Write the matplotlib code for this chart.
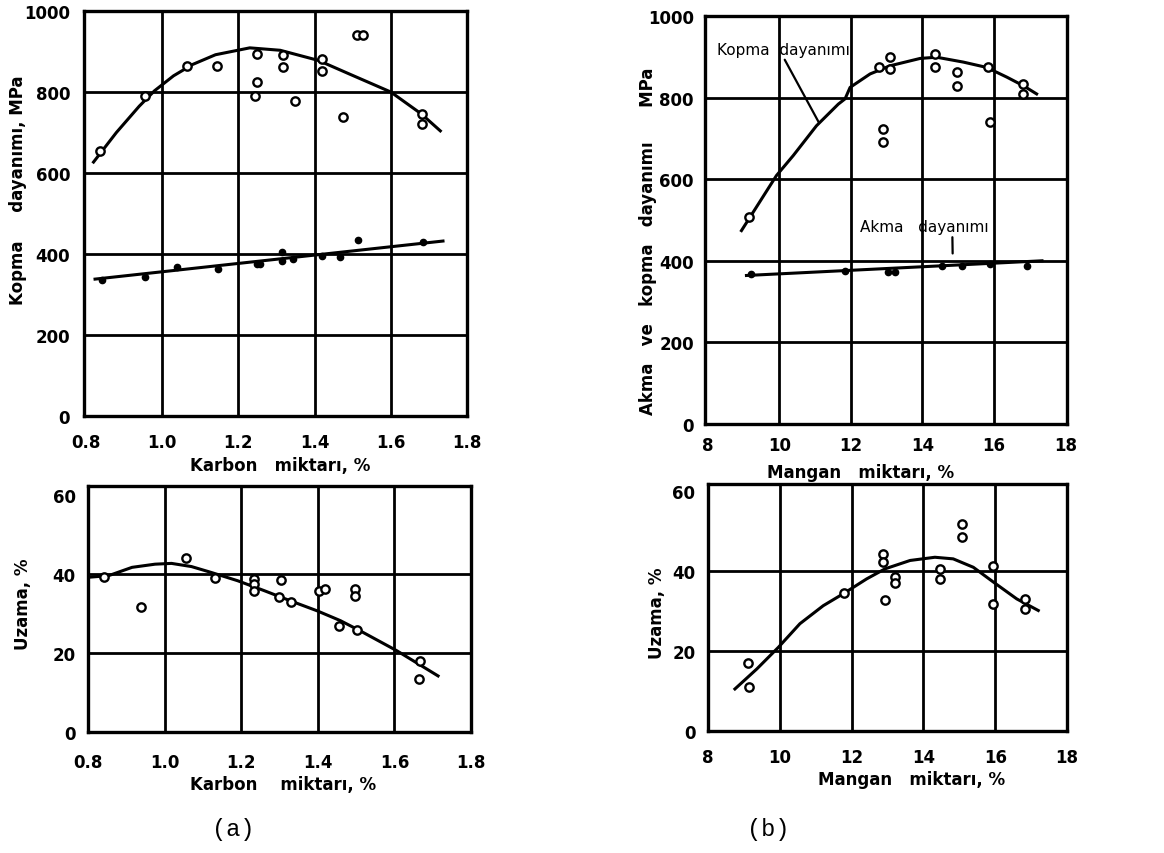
import matplotlib
matplotlib.use("Agg")
import matplotlib.pyplot as plt

# ---------------- DATA ----------------
# (a) top: Kopma dayanimi vs Karbon miktari
carbon_ts_curve_x = [0.82, 0.88, 0.94, 0.98, 1.03, 1.08, 1.14, 1.23, 1.31, 1.41, 1.49, 1.60, 1.68, 1.73]
carbon_ts_curve_y = [627, 700, 765, 803, 840, 868, 892, 909, 903, 878, 845, 800, 746, 704]
carbon_ts_pts_x = [0.837, 0.955, 1.064, 1.144, 1.248, 1.248, 1.244, 1.318, 1.318, 1.349,
                   1.419, 1.419, 1.475, 1.512, 1.526, 1.681, 1.681]
carbon_ts_pts_y = [655, 791, 865, 865, 894, 824, 791, 891, 861, 779,
                   881, 853, 738, 941, 941, 746, 721]
carbon_ys_line_x = [0.824, 1.737]
carbon_ys_line_y = [338, 432]
carbon_ys_pts_x = [0.841, 0.955, 1.038, 1.147, 1.248, 1.256, 1.314, 1.314, 1.344, 1.419, 1.467, 1.515, 1.685]
carbon_ys_pts_y = [336, 342, 367, 363, 375, 375, 404, 383, 388, 396, 392, 435, 429]

# (a) bottom: Uzama vs Karbon miktari
carbon_el_curve_x = [0.803, 0.854, 0.915, 0.975, 1.018, 1.07, 1.122, 1.191, 1.26, 1.329, 1.398, 1.459, 1.511, 1.606, 1.714]
carbon_el_curve_y = [39.2, 39.6, 41.7, 42.5, 42.7, 41.9, 40.4, 38.3, 35.8, 33.2, 30.7, 28.2, 25.6, 20.6, 14.2]
carbon_el_pts_x = [0.841, 0.939, 1.057, 1.131, 1.234, 1.234, 1.234, 1.305, 1.299, 1.329,
                   1.403, 1.42, 1.498, 1.498, 1.455, 1.502, 1.666, 1.665]
carbon_el_pts_y = [39.2, 31.7, 44.0, 38.9, 38.7, 37.5, 35.8, 38.5, 34.1, 33.0,
                   35.8, 36.2, 36.2, 34.5, 26.9, 25.8, 18.0, 13.4]

# (b) top: Akma ve kopma dayanimi vs Mangan miktari
mn_ts_curve_x = [8.94, 9.18, 9.92, 10.39, 11.04, 11.65, 11.84, 11.98, 12.54, 13.1, 13.94, 14.4,
                 15.15, 15.8, 16.37, 16.83, 17.2]
mn_ts_curve_y = [474, 507, 609, 658, 731, 784, 797, 825, 858, 878, 896, 899,
                 887, 874, 850, 829, 809]
mn_ts_pts_x = [9.16, 12.80, 13.1, 13.1, 12.91, 12.91, 14.36, 14.36, 14.97, 14.97, 15.85, 15.9, 16.81, 16.81]
mn_ts_pts_y = [507, 874, 899, 870, 723, 690, 907, 874, 862, 829, 874, 739, 833, 809]
mn_ys_line_x = [9.08, 17.35]
mn_ys_line_y = [364, 400]
mn_ys_pts_x = [9.22, 11.84, 13.05, 13.24, 14.55, 15.11, 15.9, 16.93]
mn_ys_pts_y = [368, 376, 372, 372, 388, 388, 392, 388]

# (b) bottom: Uzama vs Mangan miktari
mn_el_curve_x = [8.75, 9.36, 9.96, 10.56, 11.21, 11.77, 12.42, 12.93, 13.63, 14.32, 14.83, 15.39, 15.95, 16.6, 17.2]
mn_el_curve_y = [10.5, 15.5, 20.9, 26.8, 31.3, 34.3, 38.0, 40.5, 42.6, 43.4, 43.0, 40.9, 37.2, 33.0, 30.1]
mn_el_pts_x = [9.12, 9.15, 11.79, 12.88, 12.88, 12.93, 13.21, 13.21, 14.46, 14.46,
               15.07, 15.07, 15.95, 15.93, 16.83, 16.83]
mn_el_pts_y = [16.9, 10.9, 34.5, 44.3, 42.3, 32.8, 38.4, 36.9, 40.5, 38.0,
               51.7, 48.4, 41.3, 31.7, 33.0, 30.5]

carbon_ticks = [0.8, 1.0, 1.2, 1.4, 1.6, 1.8]
carbon_ticklabels = ["0.8", "1.0", "1.2", "1.4", "1.6", "1.8"]
mn_ticks = [8, 10, 12, 14, 16, 18]
mn_ticklabels = ["8", "10", "12", "14", "16", "18"]
strength_ticks = [0, 200, 400, 600, 800, 1000]
strength_ticklabels = ["0", "200", "400", "600", "800", "1000"]
el_ticks = [0, 20, 40, 60]
el_ticklabels = ["0", "20", "40", "60"]

# ---------------- STYLE ----------------
plt.rcParams['font.family'] = ['DejaVu Sans']
W, H = 1164, 854
fig = plt.figure(figsize=(W / 100, H / 100), dpi=100)

GRID_LW = 2.0
SPINE_LW = 2.4
CURVE_LW = 2.2


def px_rect(left, right, top, bottom):
    return [left / W, 1 - bottom / H, (right - left) / W, (bottom - top) / H]


def style_axes(ax, xticks, xlabels, yticks, ylabels, xgrid, ygrid, xpad, ypad):
    for s in ax.spines.values():
        s.set_linewidth(SPINE_LW)
        s.set_color('black')
    ax.set_xticks(xticks)
    ax.set_xticklabels(xlabels)
    ax.set_yticks(yticks)
    ax.set_yticklabels(ylabels)
    ax.tick_params(length=0, labelsize=12, pad=xpad, axis='x')
    ax.tick_params(length=0, labelsize=12, pad=ypad, axis='y')
    for lab in ax.get_xticklabels() + ax.get_yticklabels():
        lab.set_fontweight('bold')
    for g in xgrid:
        ax.axvline(g, color='black', lw=GRID_LW, zorder=1)
    for g in ygrid:
        ax.axhline(g, color='black', lw=GRID_LW, zorder=1)


open_kw = dict(ls='none', marker='o', ms=6, mfc='white', mec='black', mew=1.7, zorder=4)
fill_kw = dict(ls='none', marker='o', ms=4.5, mfc='black', mec='black', zorder=4)
label_kw = dict(fontsize=12, fontweight='bold', va='center')

# ---- (a) top ----
ax1 = fig.add_axes(px_rect(84, 467, 12, 417))
ax1.set_xlim(0.795, 1.80)
ax1.set_ylim(0, 1000)
style_axes(ax1, carbon_ticks, carbon_ticklabels, strength_ticks, strength_ticklabels,
           [1.0, 1.2, 1.4, 1.6], [200, 400, 600, 800], 12, 10)
ax1.plot(carbon_ts_curve_x, carbon_ts_curve_y, color='black', lw=CURVE_LW, zorder=3)
ax1.plot(carbon_ts_pts_x, carbon_ts_pts_y, **open_kw)
ax1.plot(carbon_ys_line_x, carbon_ys_line_y, color='black', lw=CURVE_LW, zorder=3)
ax1.plot(carbon_ys_pts_x, carbon_ys_pts_y, **fill_kw)
ax1.set_xlabel("Karbon   miktarı, %", **label_kw)
ax1.xaxis.set_label_coords(0.512, -0.121)
ax1.set_ylabel("Kopma     dayanımı, MPa", **label_kw)
ax1.yaxis.set_label_coords(-0.172, 0.56)

# ---- (b) top ----
ax2 = fig.add_axes(px_rect(705, 1067, 17, 425))
ax2.set_xlim(7.92, 18.05)
ax2.set_ylim(0, 1000)
style_axes(ax2, mn_ticks, mn_ticklabels, strength_ticks, strength_ticklabels,
           [10, 12, 14, 16], [200, 400, 600, 800], 9, 8)
ax2.plot(mn_ts_curve_x, mn_ts_curve_y, color='black', lw=CURVE_LW, zorder=3)
ax2.plot(mn_ts_pts_x, mn_ts_pts_y, **open_kw)
ax2.plot(mn_ys_line_x, mn_ys_line_y, color='black', lw=CURVE_LW, zorder=3)
ax2.plot(mn_ys_pts_x, mn_ys_pts_y, **fill_kw)
ax2.set_xlabel("Mangan   miktarı, %", **label_kw)
ax2.xaxis.set_label_coords(0.43, -0.118)
ax2.set_ylabel("Akma   ve   kopma   dayanımı      MPa", **label_kw)
ax2.yaxis.set_label_coords(-0.157, 0.45)
ax2.annotate("Kopma  dayanımı", xy=(11.1, 740), xytext=(8.25, 918),
             fontsize=11, ha='left', va='center',
             arrowprops=dict(arrowstyle='-', color='black', lw=1.6,
                             shrinkA=0, shrinkB=0, relpos=(0.5, 0.0)))
ax2.annotate("Akma   dayanımı", xy=(14.85, 418), xytext=(12.25, 483),
             fontsize=11, ha='left', va='center',
             arrowprops=dict(arrowstyle='-', color='black', lw=1.6,
                             shrinkA=0, shrinkB=0, relpos=(0.72, 0.0)))

# ---- (a) bottom ----
ax3 = fig.add_axes(px_rect(88, 471, 487, 733))
ax3.set_xlim(0.8, 1.8)
ax3.set_ylim(0, 62.3)
style_axes(ax3, carbon_ticks, carbon_ticklabels, el_ticks, el_ticklabels,
           [1.0, 1.2, 1.4, 1.6], [20, 40], 15, 9)
ax3.plot(carbon_el_curve_x, carbon_el_curve_y, color='black', lw=CURVE_LW, zorder=3)
ax3.plot(carbon_el_pts_x, carbon_el_pts_y, **open_kw)
ax3.set_xlabel("Karbon    miktarı, %", **label_kw)
ax3.xaxis.set_label_coords(0.509, -0.211)
ax3.set_ylabel("Uzama, %", **label_kw)
ax3.yaxis.set_label_coords(-0.17, 0.524)

# ---- (b) bottom ----
ax4 = fig.add_axes(px_rect(708, 1067, 485, 732))
ax4.set_xlim(8, 18)
ax4.set_ylim(0, 61.7)
style_axes(ax4, mn_ticks, mn_ticklabels, el_ticks, el_ticklabels,
           [10, 12, 14, 16], [20, 40], 12, 9)
ax4.plot(mn_el_curve_x, mn_el_curve_y, color='black', lw=CURVE_LW, zorder=3)
ax4.plot(mn_el_pts_x, mn_el_pts_y, **open_kw)
ax4.set_xlabel("Mangan   miktarı, %", **label_kw)
ax4.xaxis.set_label_coords(0.568, -0.194)
ax4.set_ylabel("Uzama, %", **label_kw)
ax4.yaxis.set_label_coords(-0.142, 0.48)

fig.text(233 / W, 1 - 830 / H, "(a)", family=['Liberation Mono', 'DejaVu Sans Mono'],
         fontsize=17, ha='center', va='center')
fig.text(768 / W, 1 - 830 / H, "(b)", family=['Liberation Mono', 'DejaVu Sans Mono'],
         fontsize=17, ha='center', va='center')

fig.savefig("out.png", dpi=100)
